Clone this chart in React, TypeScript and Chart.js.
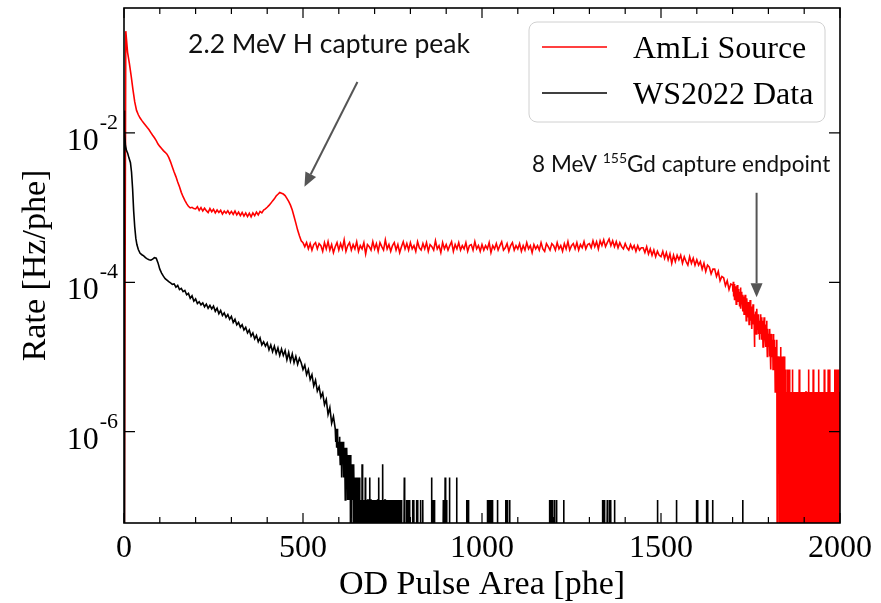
import React, { useEffect, useRef } from "react";
import { Chart, registerables } from "chart.js";

Chart.register(...registerables);

// ---------------- axes ----------------
const X_MIN = 0;
const X_MAX = 2000;
const Y_MIN = 6.07e-8;
const Y_MAX = 0.47;
const xMajorTicks = [0, 500, 1000, 1500, 2000];
const xTickLabels = ["0", "500", "1000", "1500", "2000"];
const xMinorTicks = [100, 200, 300, 400, 600, 700, 800, 900, 1100, 1200, 1300, 1400, 1600, 1700, 1800, 1900];
const yMajorTicks = [1e-2, 1e-4, 1e-6];
const yTickBase = "10";
const yTickExponents = ["-2", "-4", "-6"];
const xTitle = "OD Pulse Area [phe]";
const yTitle = "Rate [Hz/phe]";
// empty bins sit below the visible log range (drawn down to the axis floor)
const EMPTY_BIN_RATE = 1e-9;

// ---------------- AmLi source (red) ----------------
const redLabel = "AmLi Source";
const redBodyStep = 5; // phe between entries, starting at 0 phe (0 .. 1695)
const redBody = [
  0, 0.23, 0.12, 0.085, 0.058, 0.038, 0.026, 0.020, 0.0175, 0.0158,
  0.0146, 0.0136, 0.0127, 0.0118, 0.0110, 0.0101, 0.0093, 0.0086, 0.0079, 0.0071,
  0.0066, 0.0062, 0.0058, 0.0055, 0.0052, 0.0047, 0.0041, 0.0035, 0.0030, 0.0026,
  0.0022, 0.0019, 0.0016, 0.0014, 0.00125, 0.00113, 0.00104, 0.00099, 0.00101, 0.00097,
  9.6e-4, 1.03e-3, 9.2e-4, 1.0e-3, 9.0e-4, 9.8e-4, 9.1e-4, 8.6e-4, 9.7e-4, 8.8e-4,
  9.5e-4, 8.5e-4, 9.3e-4, 8.6e-4, 9.2e-4, 8.2e-4, 9.0e-4, 8.4e-4, 9.1e-4, 8.2e-4,
  8.9e-4, 8.1e-4, 9.0e-4, 8.0e-4, 8.7e-4, 7.8e-4, 8.6e-4, 7.7e-4, 8.5e-4, 7.6e-4,
  8.4e-4, 7.5e-4, 8.5e-4, 7.8e-4, 8.7e-4, 8.0e-4, 8.9e-4, 8.5e-4, 9.3e-4, 9.6e-4,
  1.01e-3, 1.07e-3, 1.14e-3, 1.23e-3, 1.31e-3, 1.43e-3, 1.51e-3, 1.6e-3, 1.56e-3, 1.52e-3,
  1.45e-3, 1.33e-3, 1.21e-3, 1.08e-3, 9.3e-4, 7.6e-4, 6.2e-4, 5.0e-4, 4.2e-4, 3.6e-4,
  3.4e-4, 3.0e-4, 3.4e-4, 2.8e-4, 3.3e-4, 2.7e-4, 3.2e-4, 3.4e-4, 2.8e-4, 3.3e-4,
  3.1e-4, 2.6e-4, 3.4e-4, 2.8e-4, 3.5e-4, 2.7e-4, 3.2e-4, 2.5e-4, 3.0e-4, 3.4e-4,
  2.7e-4, 3.3e-4, 2.8e-4, 3.7e-4, 2.6e-4, 3.1e-4, 3.4e-4, 2.7e-4, 3.2e-4, 2.8e-4,
  3.5e-4, 2.6e-4, 3.1e-4, 2.8e-4, 3.4e-4, 2.4e-4, 3.2e-4, 3.0e-4, 2.7e-4, 3.5e-4,
  2.8e-4, 3.3e-4, 2.6e-4, 3.4e-4, 3.0e-4, 2.7e-4, 3.7e-4, 2.8e-4, 3.2e-4, 2.6e-4,
  3.1e-4, 3.4e-4, 2.7e-4, 3.2e-4, 2.5e-4, 3.0e-4, 3.5e-4, 2.8e-4, 3.3e-4, 2.7e-4,
  3.4e-4, 2.8e-4, 3.1e-4, 2.6e-4, 3.5e-4, 2.9e-4, 2.7e-4, 3.3e-4, 2.8e-4, 3.4e-4,
  2.6e-4, 3.2e-4, 3.0e-4, 2.7e-4, 3.6e-4, 2.8e-4, 3.1e-4, 2.5e-4, 3.4e-4, 2.8e-4,
  3.2e-4, 2.7e-4, 3.1e-4, 3.5e-4, 2.6e-4, 3.2e-4, 2.8e-4, 3.4e-4, 2.7e-4, 3.1e-4,
  2.8e-4, 3.4e-4, 2.6e-4, 3.1e-4, 3.2e-4, 2.7e-4, 3.5e-4, 2.8e-4, 3.1e-4, 2.6e-4,
  3.2e-4, 2.7e-4, 3.1e-4, 2.8e-4, 3.4e-4, 2.5e-4, 3.1e-4, 2.8e-4, 3.3e-4, 2.7e-4,
  3.1e-4, 3.5e-4, 2.7e-4, 2.9e-4, 3.3e-4, 2.6e-4, 3.1e-4, 3.4e-4, 2.7e-4, 3.1e-4,
  2.8e-4, 3.3e-4, 2.6e-4, 3.1e-4, 2.7e-4, 3.4e-4, 2.8e-4, 3.1e-4, 2.5e-4, 3.2e-4,
  2.8e-4, 3.1e-4, 2.7e-4, 3.4e-4, 2.8e-4, 2.6e-4, 3.3e-4, 3.0e-4, 2.7e-4, 3.3e-4,
  3.1e-4, 2.7e-4, 3.4e-4, 2.8e-4, 3.1e-4, 2.6e-4, 3.3e-4, 2.8e-4, 3.5e-4, 2.7e-4,
  3.1e-4, 3.3e-4, 2.8e-4, 3.4e-4, 2.7e-4, 3.2e-4, 2.9e-4, 3.5e-4, 2.8e-4, 3.2e-4,
  3.3e-4, 2.9e-4, 3.6e-4, 3.0e-4, 3.5e-4, 2.8e-4, 3.6e-4, 3.1e-4, 3.7e-4, 3.0e-4,
  3.4e-4, 3.8e-4, 3.1e-4, 3.6e-4, 3.0e-4, 3.5e-4, 2.9e-4, 3.4e-4, 3.0e-4, 2.8e-4,
  3.3e-4, 2.9e-4, 2.7e-4, 3.2e-4, 2.8e-4, 3.1e-4, 2.6e-4, 3.1e-4, 2.7e-4, 2.9e-4,
  2.9e-4, 2.5e-4, 3.0e-4, 2.4e-4, 2.8e-4, 2.3e-4, 2.7e-4, 2.2e-4, 2.6e-4, 2.3e-4,
  2.2e-4, 2.6e-4, 2.1e-4, 2.5e-4, 2.0e-4, 2.4e-4, 1.8e-4, 2.3e-4, 1.9e-4, 2.3e-4,
  2.0e-4, 2.3e-4, 1.8e-4, 2.2e-4, 1.9e-4, 1.7e-4, 2.2e-4, 1.8e-4, 2.1e-4, 1.7e-4,
  2.0e-4, 1.7e-4, 1.9e-4, 1.5e-4, 1.8e-4, 1.4e-4, 1.7e-4, 1.6e-4, 1.3e-4, 1.5e-4,
  1.5e-4, 1.2e-4, 1.4e-4, 1.05e-4, 1.2e-4, 1.15e-4, 9.0e-5, 1.05e-4, 8.0e-5, 9.5e-5,
];
// single-phe bins (event counts), 1700 .. 1789 phe
const redMidStart = 1700;
const redMidCounts = [
  27, 22, 30, 19, 25, 28, 17, 24, 21, 26,
  15, 23, 19, 27, 20, 16, 24, 18, 22, 14,
  21, 17, 25, 13, 19, 22, 15, 18, 12, 20,
  16, 19, 11, 17, 14, 20, 13, 16, 9, 15,
  18, 12, 15, 10, 16, 13, 8, 14, 11, 17,
  12, 9, 14, 11, 7, 13, 10, 15, 8, 12,
  10, 4, 11, 8, 12, 9, 6, 10, 13, 7,
  9, 11, 6, 10, 8, 5, 9, 7, 11, 6,
  8, 10, 5, 9, 7, 4, 8, 6, 10, 5,
];
// single-phe bins (event counts) of the sparse tail, 1790 .. 2000 phe
const redTailStart = 1790;
const redTailCounts =
  "7584696375" + "5463745265" + "4352634251" + "3142503213" + "2031402130" +
  "1021310201" + "0102010120" + "0101010201" + "0101101010" + "1010102010" +
  "1001010101" + "0101011101" + "0102010101" + "0101020101" + "1010101010" +
  "1200101010" + "1010102010" + "0101010201" + "0210101010" + "1010102012" +
  "0101020101" + "0";
const redRatePerCount = 3.4e-6;

// ---------------- WS2022 data (black) ----------------
const blackLabel = "WS2022 Data";
const blackHeadPhe = [0, 1, 2, 4, 7, 10, 14, 18, 21, 24, 27, 30, 33, 36, 40];
const blackHeadRate = [0, 0.020, 0.011, 0.0068, 0.0058, 0.0054, 0.0046, 0.0040, 0.0030, 0.0018, 0.0009, 5.5e-4, 3.9e-4, 3.2e-4, 2.75e-4];
const blackBodyStart = 45;
const blackBodyStep = 5;
const blackBody = [
  2.45e-4, 2.34e-4, 2.26e-4, 2.14e-4, 2.06e-4, 2.0e-4, 1.98e-4, 2.04e-4, 2.14e-4, 2.1e-4,
  1.82e-4, 1.5e-4, 1.33e-4, 1.21e-4, 1.12e-4, 1.07e-4, 1.02e-4, 9.8e-5, 9.4e-5, 9.5e-5,
  8.6e-5, 9.1e-5, 8.0e-5, 8.3e-5, 7.5e-5, 7.8e-5, 6.8e-5, 7.1e-5, 6.1e-5, 6.6e-5,
  5.6e-5, 6.0e-5, 5.2e-5, 5.5e-5, 5.0e-5, 5.3e-5, 4.7e-5, 5.1e-5, 4.5e-5, 4.9e-5,
  4.4e-5, 4.8e-5, 4.1e-5, 4.5e-5, 3.8e-5, 4.2e-5, 3.6e-5, 3.9e-5, 3.4e-5, 3.7e-5,
  3.2e-5, 3.5e-5, 2.9e-5, 3.2e-5, 2.7e-5, 2.9e-5, 2.5e-5, 2.7e-5, 2.3e-5, 2.5e-5,
  2.1e-5, 2.3e-5, 1.9e-5, 2.1e-5, 1.75e-5, 1.95e-5, 1.6e-5, 1.8e-5, 1.45e-5, 1.6e-5,
  1.4e-5, 1.55e-5, 1.25e-5, 1.45e-5, 1.18e-5, 1.4e-5, 1.12e-5, 1.32e-5, 1.05e-5, 1.28e-5,
  1.05e-5, 1.22e-5, 9.2e-6, 1.15e-5, 8.8e-6, 1.1e-5, 8.4e-6, 1.02e-5, 8.0e-6, 9.6e-6,
  8.4e-6, 6.8e-6, 7.8e-6, 5.8e-6, 6.8e-6, 5.0e-6, 5.8e-6, 4.1e-6, 4.9e-6, 3.5e-6,
  4.0e-6, 2.9e-6, 3.3e-6, 2.3e-6, 2.7e-6, 1.7e-6, 2.1e-6, 1.3e-6, 1.6e-6,
];
// single-phe bins (event counts) from 590 phe
const blackTailStart = 590;
const blackTailCounts =
  "9768597846" + "6475364526" + "5364253415" + "4253142314" + "3142031213" +
  "2031201102" + "1020110201" + "0101030101" + "1010201010" + "0110101201" +
  "1010101010" + "0101010101" + "1020101010" + "0103010101" + "1010101010" +
  "0101010101" + "1010101010" + "0101010101" + "1010100000";
// isolated events beyond 780 phe
const blackSparseStart = 780;
const blackSparsePhe = [783, 789, 791, 794, 797, 806, 810, 817, 820, 829, 835, 859, 862, 864, 867, 892, 894, 897, 901, 909, 929, 957, 959, 962, 1015, 1018, 1020, 1026, 1029, 1043, 1066, 1069, 1071, 1077, 1189, 1193, 1197, 1203, 1208, 1228, 1337, 1341, 1350, 1356, 1360, 1370, 1490, 1543, 1599, 1602, 1627, 1630, 1644, 1728];
const blackSparseCounts = [2, 1, 1, 1, 1, 1, 1, 1, 1, 1, 1, 2, 1, 1, 1, 1, 1, 2, 1, 2, 2, 1, 1, 1, 1, 1, 1, 1, 1, 1, 1, 1, 1, 1, 1, 1, 1, 1, 1, 1, 1, 1, 1, 1, 1, 1, 1, 1, 1, 1, 1, 1, 1, 1];
const blackRatePerCount = 1.22e-7;

// ---------------- annotations ----------------
const peakLabel = "2.2 MeV H capture peak";
const peakLabelAt = { x: 179, y: 0.117 };
const peakArrowFrom = { x: 652, y: 0.048 };
const peakArrowTo = { x: 504, y: 1.9e-3 };
const gdLabelParts = ["8 MeV ", "155", "Gd capture endpoint"];
const gdLabelAt = { x: 1140, y: 3.0e-3 };
const gdArrowFrom = { x: 1767, y: 1.58e-3 };
const gdArrowTo = { x: 1767, y: 6.3e-5 };

// ---------------- build point lists ----------------
const rateOrEmpty = (v: number) => (v > 0 ? v : EMPTY_BIN_RATE);

function buildRed() {
  const pts: { x: number; y: number }[] = [];
  redBody.forEach((v, i) => pts.push({ x: i * redBodyStep, y: rateOrEmpty(v) }));
  redMidCounts.forEach((c, i) => pts.push({ x: redMidStart + i, y: rateOrEmpty(c * redRatePerCount) }));
  for (let i = 0; i < redTailCounts.length; i++) {
    pts.push({ x: redTailStart + i, y: rateOrEmpty(Number(redTailCounts[i]) * redRatePerCount) });
  }
  return pts;
}

function buildBlack() {
  const pts: { x: number; y: number }[] = [];
  blackHeadPhe.forEach((p, i) => pts.push({ x: p, y: rateOrEmpty(blackHeadRate[i]) }));
  blackBody.forEach((v, i) => pts.push({ x: blackBodyStart + i * blackBodyStep, y: rateOrEmpty(v) }));
  for (let i = 0; i < blackTailCounts.length; i++) {
    pts.push({ x: blackTailStart + i, y: rateOrEmpty(Number(blackTailCounts[i]) * blackRatePerCount) });
  }
  const sparse = new Map<number, number>();
  blackSparsePhe.forEach((p, i) => sparse.set(p, blackSparseCounts[i]));
  for (let p = blackSparseStart; p <= X_MAX; p++) {
    pts.push({ x: p, y: rateOrEmpty((sparse.get(p) || 0) * blackRatePerCount) });
  }
  return pts;
}

function drawArrow(ctx: CanvasRenderingContext2D, x1: number, y1: number, x2: number, y2: number) {
  const ang = Math.atan2(y2 - y1, x2 - x1);
  const headLen = 14;
  const headHalf = 6;
  const bx = x2 - headLen * Math.cos(ang);
  const by = y2 - headLen * Math.sin(ang);
  ctx.strokeStyle = "#555555";
  ctx.fillStyle = "#555555";
  ctx.lineWidth = 2;
  ctx.beginPath();
  ctx.moveTo(x1, y1);
  ctx.lineTo(bx, by);
  ctx.stroke();
  ctx.beginPath();
  ctx.moveTo(x2, y2);
  ctx.lineTo(bx + headHalf * Math.sin(ang), by - headHalf * Math.cos(ang));
  ctx.lineTo(bx - headHalf * Math.sin(ang), by + headHalf * Math.cos(ang));
  ctx.closePath();
  ctx.fill();
}

const overlayPlugin = {
  id: "overlay",
  afterDatasetsDraw(chart: any) {
    const { ctx, chartArea: a } = chart;
    const xs = chart.scales.x;
    const ys = chart.scales.y;
    ctx.save();

    // tick marks (inward, all four sides)
    ctx.strokeStyle = "#000";
    ctx.lineWidth = 1.2;
    ctx.beginPath();
    for (const v of xMinorTicks) {
      const px = xs.getPixelForValue(v);
      ctx.moveTo(px, a.bottom); ctx.lineTo(px, a.bottom - 6);
      ctx.moveTo(px, a.top); ctx.lineTo(px, a.top + 6);
    }
    for (const v of xMajorTicks) {
      const px = xs.getPixelForValue(v);
      ctx.moveTo(px, a.bottom); ctx.lineTo(px, a.bottom - 10);
      ctx.moveTo(px, a.top); ctx.lineTo(px, a.top + 10);
    }
    for (const v of yMajorTicks) {
      const py = ys.getPixelForValue(v);
      ctx.moveTo(a.left, py); ctx.lineTo(a.left + 11, py);
      ctx.moveTo(a.right, py); ctx.lineTo(a.right - 11, py);
    }
    ctx.stroke();

    // frame
    ctx.lineWidth = 1.6;
    ctx.strokeRect(a.left, a.top, a.right - a.left, a.bottom - a.top);

    // x tick labels
    ctx.fillStyle = "#000";
    ctx.font = "32px 'Liberation Serif'";
    ctx.textAlign = "center";
    ctx.textBaseline = "alphabetic";
    xMajorTicks.forEach((v, i) => {
      ctx.fillText(xTickLabels[i], xs.getPixelForValue(v), a.bottom + 34);
    });

    // y tick labels 10^n
    yMajorTicks.forEach((v, i) => {
      const py = ys.getPixelForValue(v);
      ctx.font = "22px 'Liberation Serif'";
      const supW = ctx.measureText(yTickExponents[i]).width;
      const supX = a.left - 6 - supW;
      ctx.textAlign = "left";
      ctx.fillText(yTickExponents[i], supX, py - 4);
      ctx.font = "32px 'Liberation Serif'";
      ctx.textAlign = "right";
      ctx.fillText(yTickBase, supX - 1, py + 17);
    });

    // axis titles
    ctx.font = "34px 'Liberation Serif'";
    ctx.textAlign = "center";
    ctx.fillText(xTitle, (a.left + a.right) / 2, a.bottom + 71);
    ctx.save();
    ctx.translate(a.left - 79, (a.top + a.bottom) / 2);
    ctx.rotate(-Math.PI / 2);
    ctx.fillText(yTitle, 0, 0);
    ctx.restore();

    // legend
    const lw = 296, lh = 100;
    const lx = a.right - 15 - lw;
    const ly = a.top + 14;
    ctx.beginPath();
    ctx.roundRect(lx, ly, lw, lh, 8);
    ctx.fillStyle = "rgba(255,255,255,0.85)";
    ctx.fill();
    ctx.strokeStyle = "#d0d0d0";
    ctx.lineWidth = 1;
    ctx.stroke();
    const ds = chart.data.datasets;
    const rows = [ds[0], ds[1]];
    rows.forEach((d: any, i: number) => {
      const y = ly + 25 + i * 46;
      ctx.strokeStyle = d.borderColor;
      ctx.lineWidth = 1.5;
      ctx.beginPath();
      ctx.moveTo(lx + 13, y);
      ctx.lineTo(lx + 78, y);
      ctx.stroke();
      ctx.fillStyle = "#000";
      ctx.font = "32px 'Liberation Serif'";
      ctx.textAlign = "left";
      ctx.fillText(d.label, lx + 104, y + 11);
    });

    // annotations
    ctx.fillStyle = "#111";
    ctx.font = "26.5px Lato";
    ctx.textAlign = "left";
    ctx.fillText(peakLabel, xs.getPixelForValue(peakLabelAt.x), ys.getPixelForValue(peakLabelAt.y));
    drawArrow(ctx, xs.getPixelForValue(peakArrowFrom.x), ys.getPixelForValue(peakArrowFrom.y),
      xs.getPixelForValue(peakArrowTo.x), ys.getPixelForValue(peakArrowTo.y));

    let gx = xs.getPixelForValue(gdLabelAt.x);
    const gy = ys.getPixelForValue(gdLabelAt.y);
    ctx.fillStyle = "#111";
    ctx.font = "22.5px Lato";
    ctx.fillText(gdLabelParts[0], gx, gy);
    gx += ctx.measureText(gdLabelParts[0]).width;
    ctx.font = "14px Lato";
    ctx.fillText(gdLabelParts[1], gx, gy - 9);
    gx += ctx.measureText(gdLabelParts[1]).width;
    ctx.font = "22.5px Lato";
    ctx.fillText(gdLabelParts[2], gx, gy);
    drawArrow(ctx, xs.getPixelForValue(gdArrowFrom.x), ys.getPixelForValue(gdArrowFrom.y),
      xs.getPixelForValue(gdArrowTo.x), ys.getPixelForValue(gdArrowTo.y));

    ctx.restore();
  },
};

export default function App() {
  const canvasRef = useRef<HTMLCanvasElement | null>(null);

  useEffect(() => {
    const canvas = canvasRef.current;
    if (!canvas) return;
    const chart = new Chart(canvas, {
      type: "line",
      data: {
        datasets: [
          {
            label: redLabel,
            data: buildRed(),
            borderColor: "#ff0000",
            borderWidth: 1.6,
            pointRadius: 0,
            tension: 0,
            order: 1,
          },
          {
            label: blackLabel,
            data: buildBlack(),
            borderColor: "#000000",
            borderWidth: 1.6,
            pointRadius: 0,
            tension: 0,
            order: 0,
          },
        ],
      },
      options: {
        animation: false,
        responsive: false,
        devicePixelRatio: 1,
        events: [],
        layout: { padding: { left: 124, right: 41, top: 8, bottom: 80 } },
        plugins: { legend: { display: false }, tooltip: { enabled: false } },
        scales: {
          x: { type: "linear", min: X_MIN, max: X_MAX, display: false },
          y: { type: "logarithmic", min: Y_MIN, max: Y_MAX, display: false },
        },
      },
      plugins: [overlayPlugin],
    } as any);
    return () => chart.destroy();
  }, []);

  return (
    <div style={{ position: "absolute", left: 0, top: 0, width: 881, height: 603, background: "#fff" }}>
      <canvas ref={canvasRef} width={881} height={603} style={{ display: "block", width: 881, height: 603 }} />
    </div>
  );
}
